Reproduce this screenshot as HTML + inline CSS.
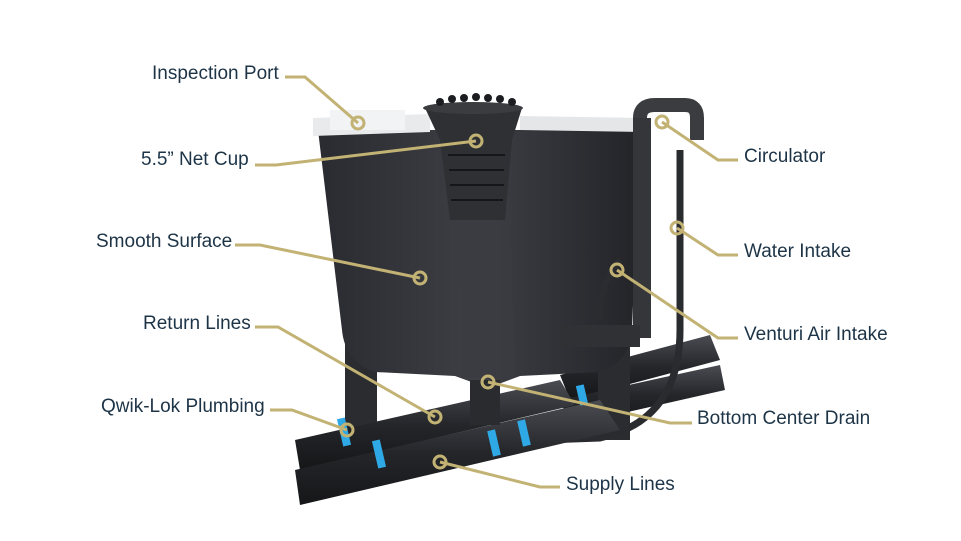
<!DOCTYPE html>
<html><head><meta charset="utf-8"><style>
body{margin:0;background:#fff;width:961px;height:541px;overflow:hidden}
svg{display:block}
text{font-family:"Liberation Sans",sans-serif;font-size:19px;fill:#1d3447}
</style></head><body>
<svg width="961" height="541" viewBox="0 0 961 541">
<defs>
<linearGradient id="tk" x1="0" x2="1"><stop offset="0" stop-color="#2a2b30"/><stop offset="0.5" stop-color="#3d3f45"/><stop offset="1" stop-color="#232428"/></linearGradient>
<linearGradient id="pp" x1="0" y1="0" x2="0" y2="1"><stop offset="0" stop-color="#4a4c52"/><stop offset="0.5" stop-color="#25262a"/><stop offset="1" stop-color="#151618"/></linearGradient>
</defs>
<polygon points="560,375 710,335 720,360 570,400" fill="url(#pp)"/>
<polygon points="560,400 720,365 725,390 570,425" fill="url(#pp)"/>
<rect x="345" y="340" width="32" height="100" fill="#2b2c30"/>
<rect x="598" y="340" width="32" height="100" fill="#2b2c30"/>
<path d="M318,130 L640,130 L632,330 Q630,362 600,372 L520,376 L488,388 L455,376 L375,372 Q345,362 342,330 Z" fill="url(#tk)"/>
<path d="M460,200 L510,200 L515,378 L462,378 Z" fill="#3a3c42" opacity="0.7"/>
<path d="M313,118 L430,114 L430,132 L313,136 Z" fill="#e8eaec"/>
<rect x="330" y="110" width="75" height="20" fill="#f2f3f4"/>
<path d="M520,116 L640,118 L640,132 L520,130 Z" fill="#e4e6e8"/>
<path d="M425,108 L522,108 L512,140 L505,220 L450,220 L440,140 Z" fill="#2e3034"/>
<ellipse cx="473" cy="108" rx="50" ry="6" fill="#3a3c40"/>
<g fill="#1c1d20"><circle cx="440" cy="102" r="4"/><circle cx="452" cy="99" r="4"/><circle cx="464" cy="98" r="4"/><circle cx="476" cy="97" r="4"/><circle cx="488" cy="98" r="4"/><circle cx="500" cy="99" r="4"/><circle cx="512" cy="102" r="4"/></g>
<g stroke="#151618" stroke-width="2"><line x1="448" y1="155" x2="505" y2="155"/><line x1="449" y1="170" x2="504" y2="170"/><line x1="450" y1="185" x2="504" y2="185"/><line x1="451" y1="200" x2="503" y2="200"/></g>
<path d="M640,118 Q640,105 655,105 L685,105 Q697,105 697,118 L697,140" fill="none" stroke="#3a3c40" stroke-width="14"/>
<rect x="633" y="118" width="18" height="220" fill="#34363a"/>
<path d="M680,150 L680,330 Q680,420 600,438 L545,440" fill="none" stroke="#2a2b2f" stroke-width="7"/>
<path d="M620,260 Q600,280 600,320" fill="none" stroke="#2a2c30" stroke-width="6"/>
<rect x="560" y="325" width="80" height="22" fill="#2f3135"/>
<polygon points="295,440 560,380 575,405 300,470" fill="url(#pp)"/>
<polygon points="295,470 600,400 620,430 300,505" fill="url(#pp)"/>
<rect x="470" y="380" width="30" height="45" fill="#2a2b2f"/>
<g fill="#2fa9e6"><rect x="340" y="418" width="8" height="28" transform="rotate(-13 344 432)"/><rect x="375" y="440" width="8" height="28" transform="rotate(-13 379 454)"/><rect x="490" y="430" width="8" height="26" transform="rotate(-13 494 443)"/><rect x="520" y="420" width="8" height="26" transform="rotate(-13 524 433)"/><rect x="578" y="385" width="8" height="20" transform="rotate(-13 582 395)"/></g>
<g fill="none" stroke="#c2b273" stroke-width="3">
<polyline points="285,77 305,77 358,123"/>
<polyline points="255,165 276,165 476,141"/>
<polyline points="235,245 260,245 420,278"/>
<polyline points="255,327 278,327 435,417"/>
<polyline points="270,410 292,410 347,430"/>
<polyline points="440,462 540,487 560,487"/>
<polyline points="488,382 670,423 692,423"/>
<polyline points="662,122 718,160 738,160"/>
<polyline points="677,228 718,255 738,255"/>
<polyline points="617,270 718,338 738,338"/>
</g>
<g fill="none" stroke="#c2b273" stroke-width="3">
<circle cx="358" cy="123" r="6"/><circle cx="476" cy="141" r="6"/><circle cx="420" cy="278" r="6"/><circle cx="435" cy="417" r="6"/><circle cx="347" cy="430" r="6"/><circle cx="440" cy="462" r="6"/><circle cx="488" cy="382" r="6"/><circle cx="662" cy="122" r="6"/><circle cx="677" cy="228" r="6"/><circle cx="617" cy="270" r="6"/>
</g>
<text x="152" y="79">Inspection Port</text>
<text x="141" y="165">5.5” Net Cup</text>
<text x="96" y="247">Smooth Surface</text>
<text x="143" y="329">Return Lines</text>
<text x="101" y="412">Qwik-Lok Plumbing</text>
<text x="566" y="490">Supply Lines</text>
<text x="697" y="424">Bottom Center Drain</text>
<text x="744" y="162">Circulator</text>
<text x="744" y="257">Water Intake</text>
<text x="744" y="340">Venturi Air Intake</text>
</svg>
</body></html>
